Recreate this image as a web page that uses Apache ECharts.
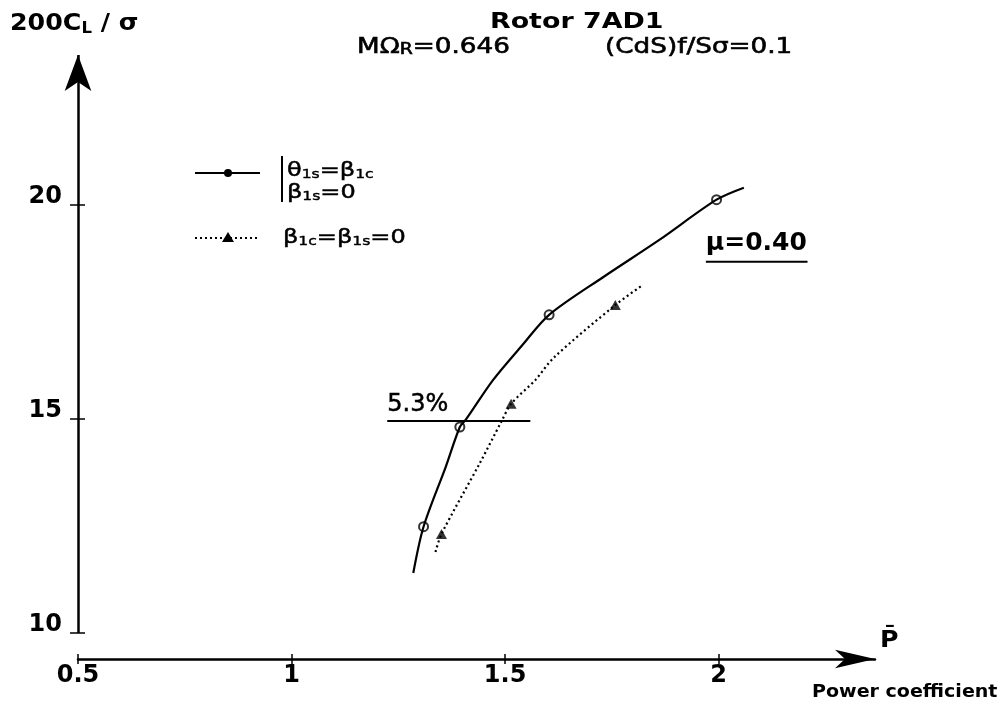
<!DOCTYPE html>
<html>
<head>
<meta charset="utf-8">
<script src="https://cdn.jsdelivr.net/npm/echarts@6/dist/echarts.min.js"></script>
<style>
  html, body { margin: 0; padding: 0; background: #fff; }
  #chart { width: 1001px; height: 710px; }
</style>
</head>
<body>
<div id="chart"></div>
<script>
// Rotor 7AD1: thrust coefficient 200CL/sigma against power coefficient P at mu = 0.40
const xTicks = [0.5, 1, 1.5, 2];
const yTicks = [10, 15, 20];
const xRange = [0.5, 2.366];
const yRange = [9.39, 23.5];

// trim theta1s = beta1c, beta1s = 0 : faired curve and measured points
const curveA = [[1.285, 11.40], [1.309, 12.48], [1.361, 13.88], [1.394, 14.81], [1.408, 14.98],
                [1.472, 15.91], [1.541, 16.73], [1.603, 17.43], [1.731, 18.32], [1.861, 19.18],
                [1.995, 20.12], [2.059, 20.40]];
const pointsA = [[1.309, 12.48], [1.394, 14.81], [1.603, 17.43], [1.995, 20.12]];

// trim beta1c = beta1s = 0 : faired curve and measured points
const curveB = [[1.337, 11.89], [1.351, 12.31], [1.441, 13.97], [1.491, 14.93], [1.514, 15.35],
                [1.571, 15.91], [1.614, 16.43], [1.758, 17.66], [1.820, 18.11]];
const pointsB = [[1.351, 12.31], [1.514, 15.35], [1.758, 17.66]];

// power difference between the two trims at 200CL/sigma = 15
const gapLine = [[1.224, 14.95], [1.559, 14.95]];
const gapText = '5.3%';
// advance ratio tag, underlined
const muLine = [[1.970, 18.67], [2.208, 18.67]];
const muText = 'μ=0.40';

const FONT = 'DejaVu Sans';
const INK = '#000';

const chart = echarts.init(document.getElementById('chart'), null, { renderer: 'canvas' });

// free-standing text placed at (x, y), stretched horizontally by sx
function note(text, x, y, sx, style) {
  return {
    type: 'text', x: x, y: y, scaleX: sx, scaleY: 1,
    style: Object.assign({ text: text, x: 0, y: 0, align: 'left', verticalAlign: 'middle',
                           fontFamily: FONT, fill: INK }, style)
  };
}

// slightly heavier regular weight: fill plus a thin outline of the same ink
const legA = { fontFamily: FONT, fontSize: 20, fill: INK, stroke: INK, lineWidth: 0.5 };
const legS = { fontFamily: FONT, fontSize: 13, fill: INK, stroke: INK, lineWidth: 0.4, padding: [8, 0, 0, 0] };
const ttl = { fontFamily: FONT, fontSize: 21, fill: INK, stroke: INK, lineWidth: 0.6 };

const option = {
  backgroundColor: '#fff',
  animation: false,
  grid: { left: 78, right: 126, top: 55, bottom: 51, containLabel: false },
  xAxis: [{
    type: 'value', min: xRange[0], max: xRange[1], position: 'bottom',
    axisLine: { show: true, onZero: false, symbol: ['none', 'arrow'], symbolSize: [14, 40],
                lineStyle: { color: INK, width: 2.5 } },
    axisTick: { show: true, customValues: xTicks, length: 5, lineStyle: { color: INK, width: 1.5 } },
    axisLabel: { customValues: xTicks, color: INK, fontFamily: FONT, fontWeight: 'bold', fontSize: 24, margin: 5 },
    splitLine: { show: false }
  }, {
    type: 'value', min: xRange[0], max: xRange[1], position: 'bottom',
    axisLine: { show: false },
    axisTick: { show: true, inside: true, customValues: xTicks, length: 5, lineStyle: { color: INK, width: 1.5 } },
    axisLabel: { show: false },
    splitLine: { show: false }
  }],
  yAxis: [{
    type: 'value', min: yRange[0], max: yRange[1], position: 'left',
    axisLine: { show: false },
    axisTick: { show: true, customValues: yTicks, length: 8, lineStyle: { color: INK, width: 1.5 } },
    axisLabel: { customValues: yTicks, color: INK, fontFamily: FONT, fontWeight: 'bold', fontSize: 24,
                 margin: 16, verticalAlign: 'bottom', lineHeight: 17 },
    splitLine: { show: false }
  }, {
    type: 'value', min: yRange[0], max: yRange[1], position: 'left',
    axisLine: { show: false },
    axisTick: { show: true, inside: true, customValues: yTicks, length: 7, lineStyle: { color: INK, width: 1.5 } },
    axisLabel: { show: false },
    splitLine: { show: false }
  }],
  series: [
    {
      name: 'curveA', type: 'line', data: curveA, smooth: 0.3, showSymbol: false, clip: false,
      lineStyle: { color: INK, width: 2.2 },
      markLine: {
        silent: true, symbol: ['none', 'arrow'], symbolSize: [20, 36],
        lineStyle: { color: INK, width: 2.5, type: 'solid' }, label: { show: false },
        data: [[{ coord: [xRange[0], yTicks[0]] }, { coord: [xRange[0], yRange[1]] }]]
      }
    },
    {
      name: 'pointsA', type: 'scatter', data: pointsA, symbol: 'circle', symbolSize: 9,
      itemStyle: { color: '#fff', borderColor: INK, borderWidth: 2 }
    },
    {
      name: 'curveB', type: 'line', data: curveB, smooth: 0.3, showSymbol: false,
      lineStyle: { color: INK, width: 2.2, type: [2, 3] }
    },
    {
      name: 'pointsB', type: 'scatter', data: pointsB, symbol: 'triangle', symbolSize: [11, 10],
      itemStyle: { color: INK }
    },
    {
      name: 'gap', type: 'line', showSymbol: true, symbol: 'circle', symbolSize: 0,
      lineStyle: { color: INK, width: 2.2 },
      data: gapLine.map((p, i) => i === 0 ? {
        value: p,
        label: { show: true, formatter: gapText, position: 'top', align: 'left', distance: 4,
                 color: INK, fontFamily: FONT, fontSize: 24, textBorderColor: INK, textBorderWidth: 0.5 }
      } : p)
    },
    {
      name: 'mu', type: 'line', showSymbol: true, symbol: 'circle', symbolSize: 0,
      lineStyle: { color: INK, width: 2 },
      data: muLine.map((p, i) => i === 0 ? {
        value: p,
        label: { show: true, formatter: muText, position: 'top', align: 'left', distance: 6,
                 color: INK, fontFamily: FONT, fontSize: 25, fontWeight: 'bold' }
      } : p)
    }
  ],
  graphic: [
    // titles
    note('Rotor 7AD1', 490, 22, 1.22, { fontWeight: 'bold', fontSize: 22 }),
    note('{a|MΩ}{r|R}{a|=0.646}', 357, 48, 1.25, {
      rich: { a: ttl, r: Object.assign({}, ttl, { fontSize: 15, padding: [4, 0, 0, 0] }) } }),
    note('(CdS)f/Sσ=0.1', 605, 48, 1.25, { fontSize: 21, stroke: INK, lineWidth: 0.6 }),
    // axis names
    note('{a|200C}{s|L}{a| / σ}', 10, 24, 1.1, {
      rich: { a: { fontFamily: FONT, fontWeight: 'bold', fontSize: 23, fill: INK },
              s: { fontFamily: FONT, fontWeight: 'bold', fontSize: 15, fill: INK, padding: [10, 0, 0, 0] } } }),
    note('P\u0304', 880, 641, 1.1, { fontWeight: 'bold', fontSize: 23 }),
    note('Power coefficient', 812, 693, 1.12, { fontWeight: 'bold', fontSize: 17 }),
    // legend
    { type: 'line', shape: { x1: 195, y1: 173, x2: 260, y2: 173 }, style: { stroke: INK, lineWidth: 2.2 } },
    { type: 'circle', shape: { cx: 228, cy: 173, r: 4 }, style: { fill: INK } },
    { type: 'line', shape: { x1: 282, y1: 156, x2: 282, y2: 202 }, style: { stroke: INK, lineWidth: 2 } },
    note('{a|θ}{s|1s}{a|=β}{s|1c}', 287, 171, 1.2, { rich: { a: legA, s: legS } }),
    note('{a|β}{s|1s}{a|=0}', 287, 193, 1.2, { rich: { a: legA, s: legS } }),
    { type: 'line', shape: { x1: 195, y1: 238, x2: 260, y2: 238 }, style: { stroke: INK, lineWidth: 2, lineDash: [2, 3] } },
    { type: 'polygon', shape: { points: [[228, 232], [222, 242], [234, 242]] }, style: { fill: INK } },
    note('{a|β}{s|1c}{a|=β}{s|1s}{a|=0}', 283, 238, 1.2, { rich: { a: legA, s: legS } })
  ]
};

chart.setOption(option);
</script>
</body>
</html>
